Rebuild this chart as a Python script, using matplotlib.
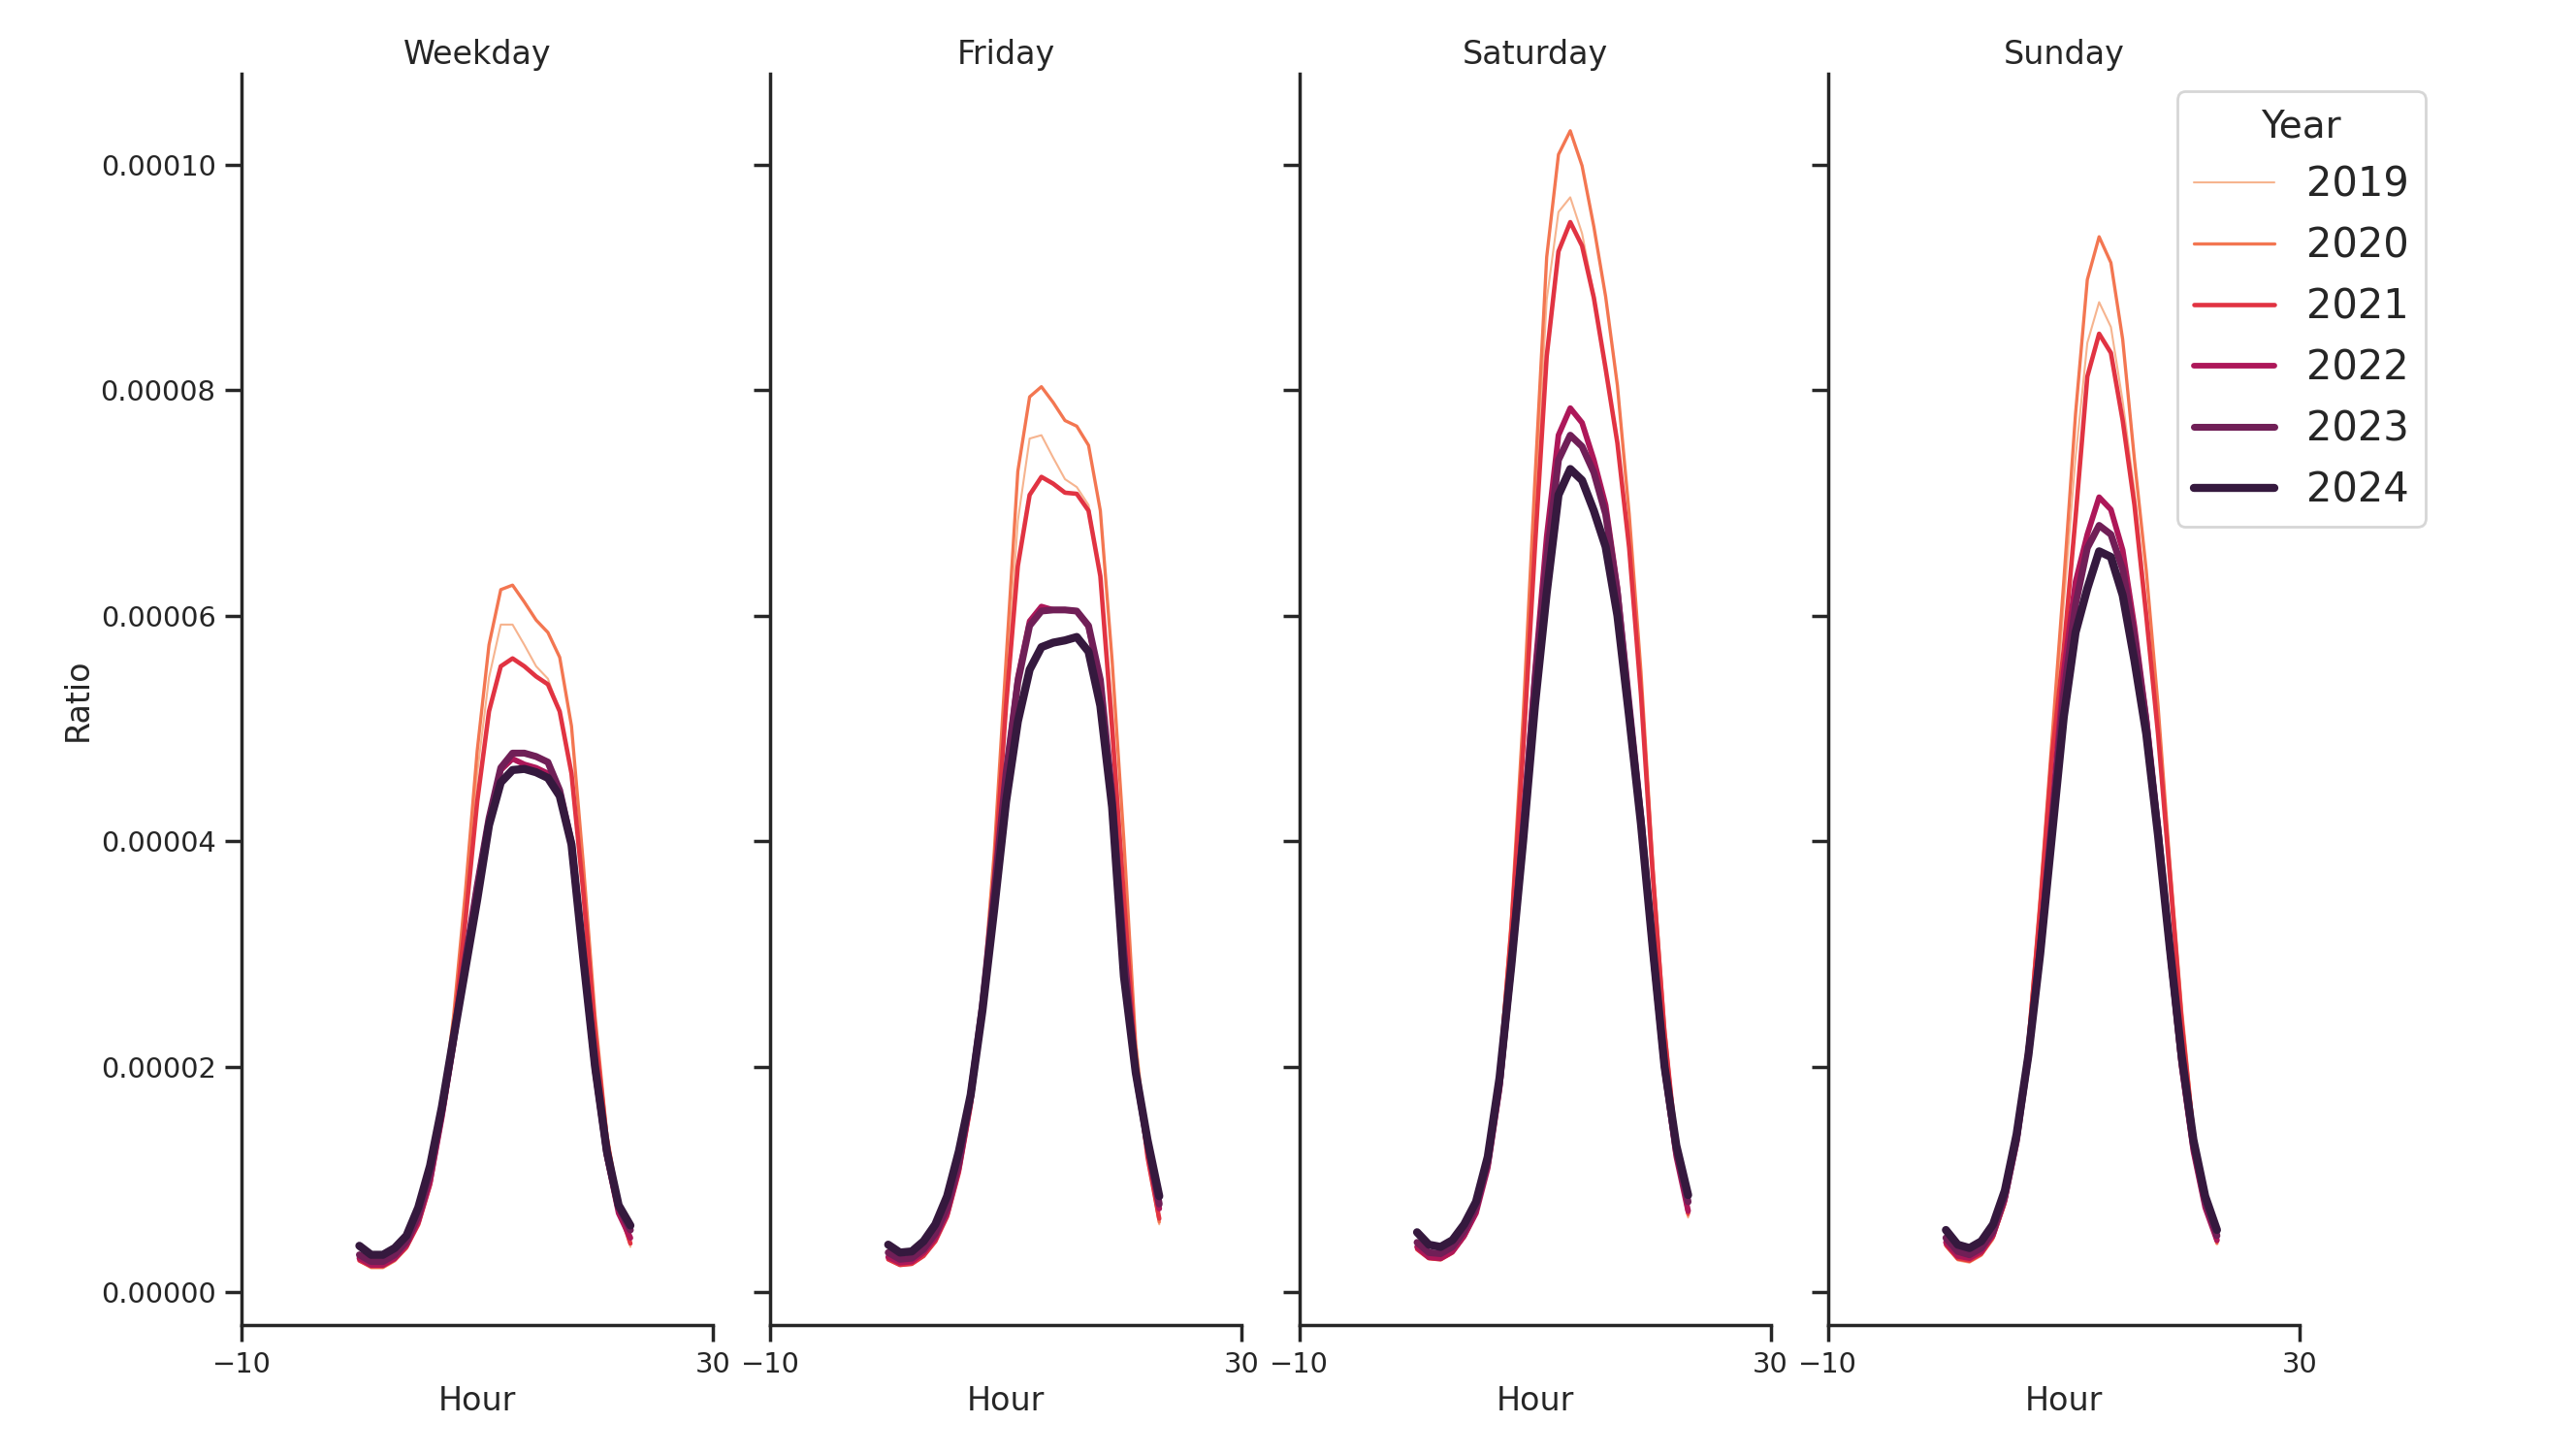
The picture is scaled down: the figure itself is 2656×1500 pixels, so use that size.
import numpy as np
import matplotlib
matplotlib.use("Agg")
import matplotlib.pyplot as plt
import seaborn as sns

# hourly ratio values, in units of 1e-6
hours = list(range(24))
years = [2019, 2020, 2021, 2022, 2023, 2024]
days = ["Weekday", "Friday", "Saturday", "Sunday"]

weekday_2019 = [2.7, 2.1, 2.1, 2.7, 3.8, 5.9, 9.4, 15.5, 23.5, 34, 46, 54.5, 59.2, 59.2, 57.4, 55.5, 54.4, 51.5, 46, 35.5, 23, 13.5, 7.5, 4.0]
weekday_2020 = [2.8, 2.2, 2.2, 2.8, 3.9, 6.0, 9.5, 16, 24.5, 35.5, 48, 57.4, 62.3, 62.7, 61.2, 59.6, 58.5, 56.3, 50.2, 38, 24.5, 14, 8, 4.3]
weekday_2021 = [2.8, 2.3, 2.3, 2.9, 4.0, 6.0, 9.5, 15.5, 23, 33, 43.5, 51.5, 55.5, 56.2, 55.5, 54.6, 53.9, 51.5, 46, 35.5, 23, 13.5, 7.5, 4.3]
weekday_2022 = [3.0, 2.4, 2.4, 3.0, 4.2, 6.3, 9.8, 15.5, 22, 29.5, 36, 42, 46.3, 47.3, 46.8, 46.5, 46.0, 44.0, 39.5, 29.5, 19.5, 12, 7.0, 4.8]
weekday_2023 = [3.3, 2.7, 2.7, 3.3, 4.5, 6.8, 10.5, 16, 22.5, 29.5, 36, 42, 46.5, 47.8, 47.8, 47.5, 47.0, 44.5, 39.8, 29.8, 20, 12.3, 7.5, 5.5]
weekday_2024 = [4.1, 3.3, 3.3, 3.9, 5.0, 7.5, 11.2, 16.4, 22.6, 28.7, 34.8, 41.4, 45.2, 46.3, 46.4, 46.1, 45.6, 44.0, 39.7, 29.6, 20.0, 12.5, 7.7, 5.9]

friday_2019 = [2.8, 2.3, 2.4, 3.1, 4.4, 6.6, 10.5, 16.5, 25, 37, 53, 68.4, 75.7, 76.0, 74, 72.1, 71.4, 69.8, 63.5, 52, 36, 21, 11.5, 6.0]
friday_2020 = [2.9, 2.4, 2.5, 3.2, 4.5, 6.8, 10.8, 17, 26, 39, 56, 72.8, 79.4, 80.3, 78.9, 77.3, 76.8, 75.1, 69.3, 56, 40, 22, 12.5, 6.2]
friday_2021 = [2.9, 2.4, 2.5, 3.2, 4.5, 6.7, 10.6, 16.5, 25, 37, 52, 64.4, 70.7, 72.3, 71.7, 70.9, 70.8, 69.3, 63.5, 50, 35, 20.5, 12, 6.5]
friday_2022 = [3.1, 2.6, 2.7, 3.5, 4.8, 7.0, 11, 17, 25, 35.5, 46, 54.5, 59.5, 60.8, 60.5, 60.5, 60.4, 59.0, 54.0, 44, 30, 19.5, 13, 7.4]
friday_2023 = [3.5, 2.9, 3.0, 3.8, 5.2, 7.5, 11.5, 17.5, 25.5, 35.5, 46, 54.1, 59.1, 60.4, 60.5, 60.5, 60.4, 59.1, 54.3, 44, 30, 19.5, 13.2, 7.8]
friday_2024 = [4.2, 3.5, 3.6, 4.5, 6.0, 8.5, 12.5, 17.5, 25, 34, 43.5, 50.6, 55.2, 57.2, 57.6, 57.8, 58.1, 56.8, 52.0, 43, 28, 19.5, 13.5, 8.5]

saturday_2019 = [3.7, 2.9, 2.8, 3.4, 4.8, 6.9, 11.3, 19.5, 32, 49, 69, 88, 95.8, 97.1, 93.9, 88.5, 82, 75.5, 66, 53, 37, 23, 12.8, 6.6]
saturday_2020 = [3.8, 3.0, 2.9, 3.5, 4.9, 7.0, 11.5, 20, 33, 51, 72, 91.8, 100.9, 103.0, 99.9, 94.5, 88.3, 80.4, 69, 55, 38, 23.5, 13, 6.8]
saturday_2021 = [3.8, 3.0, 2.9, 3.5, 4.9, 7.0, 11.5, 19.5, 32, 48, 66, 83, 92.3, 94.9, 92.8, 88.2, 81.9, 75.3, 66, 53, 37, 23, 13, 7.0]
saturday_2022 = [4.0, 3.1, 3.0, 3.6, 5.0, 7.0, 11, 18, 29, 41.5, 55, 67, 76.0, 78.4, 77.1, 73.8, 69.8, 62.5, 52, 42, 30, 19.5, 12, 7.2]
saturday_2023 = [4.4, 3.5, 3.4, 4.0, 5.4, 7.5, 11.5, 18.5, 29, 41, 54, 65, 73.8, 76.0, 75.0, 72.7, 69.0, 62, 52, 42, 30.5, 20, 12.5, 8.0]
saturday_2024 = [5.3, 4.2, 4.0, 4.6, 6.0, 8.0, 12, 19, 29, 40, 52, 62, 70.7, 73, 72, 69.3, 66.1, 60, 51, 41.5, 30.5, 20, 13, 8.6]

sunday_2019 = [4.0, 2.8, 2.6, 3.2, 4.6, 7.6, 13, 21.5, 33, 47, 61, 74, 84.2, 87.8, 85.6, 79, 71, 61, 50, 37, 24, 14, 8, 4.3]
sunday_2020 = [4.1, 2.9, 2.7, 3.3, 4.8, 7.8, 13.5, 22.5, 35, 49, 63, 77.9, 89.8, 93.6, 91.3, 84.5, 73.8, 64, 52, 38, 25, 14.5, 8.2, 4.3]
sunday_2021 = [4.2, 3.0, 2.8, 3.4, 4.9, 8.0, 13.5, 22, 34, 47.5, 57, 68.7, 81.2, 85.0, 83.3, 77.3, 69.8, 60, 49.5, 37, 24, 14, 8, 4.5]
sunday_2022 = [4.4, 3.2, 3.0, 3.6, 5.1, 8.2, 13.3, 21, 31, 42.5, 55, 63, 67.2, 70.5, 69.4, 65.8, 59, 51, 41, 30, 20, 12.5, 7.5, 4.6]
sunday_2023 = [4.8, 3.6, 3.3, 3.9, 5.4, 8.5, 13.5, 21, 30.5, 41.5, 53, 61, 66, 68.0, 67.2, 64.1, 58, 50.5, 41, 30.5, 20.5, 13, 8, 5.0]
sunday_2024 = [5.5, 4.2, 3.9, 4.5, 6.0, 9.0, 14, 21, 30, 40.5, 51, 58.5, 62.4, 65.7, 65.2, 61.8, 56, 49.5, 40.5, 30.5, 21, 13.5, 8.5, 5.5]

data = {
    "Weekday": [weekday_2019, weekday_2020, weekday_2021, weekday_2022, weekday_2023, weekday_2024],
    "Friday": [friday_2019, friday_2020, friday_2021, friday_2022, friday_2023, friday_2024],
    "Saturday": [saturday_2019, saturday_2020, saturday_2021, saturday_2022, saturday_2023, saturday_2024],
    "Sunday": [sunday_2019, sunday_2020, sunday_2021, sunday_2022, sunday_2023, sunday_2024],
}

sns.set_theme(style="ticks", context="notebook")
colors = sns.color_palette("rocket_r", len(years))
widths = np.linspace(0.75, 3.0, len(years))

fig = plt.figure(figsize=(13.28, 7.5), dpi=200)
left0, w, gap = 0.09375, 0.183, 0.0223
bottom, h = 0.0892, 0.86
axes = []
for i, day in enumerate(days):
    if i == 0:
        ax = fig.add_axes([left0 + i * (w + gap), bottom, w, h])
    else:
        ax = fig.add_axes([left0 + i * (w + gap), bottom, w, h], sharey=axes[0])
    axes.append(ax)
    for k, yr in enumerate(years):
        vals = np.array(data[day][k]) * 1e-6
        ax.plot(hours, vals, color=colors[k], lw=widths[k], label=str(yr))
    ax.set_title(day, fontsize=12, pad=3.5)
    ax.set_xlim(-10, 30)
    ax.set_xticks([-10, 30])
    ax.set_xlabel("Hour", fontsize=12, labelpad=2.8)
    ax.tick_params(labelsize=10.4)
    if i > 0:
        plt.setp(ax.get_yticklabels(), visible=False)
    sns.despine(ax=ax)

axes[0].set_ylabel("Ratio", fontsize=12, labelpad=2.5)
axes[0].set_yticks([0, 2e-5, 4e-5, 6e-5, 8e-5, 1e-4])
axes[0].yaxis.set_major_formatter(matplotlib.ticker.FormatStrFormatter("%.5f"))

leg = axes[3].legend(title="Year", loc="upper right", bbox_to_anchor=(1.31, 1.002),
                     fontsize=15, title_fontsize=14)

fig.savefig("out.png", dpi=200)
